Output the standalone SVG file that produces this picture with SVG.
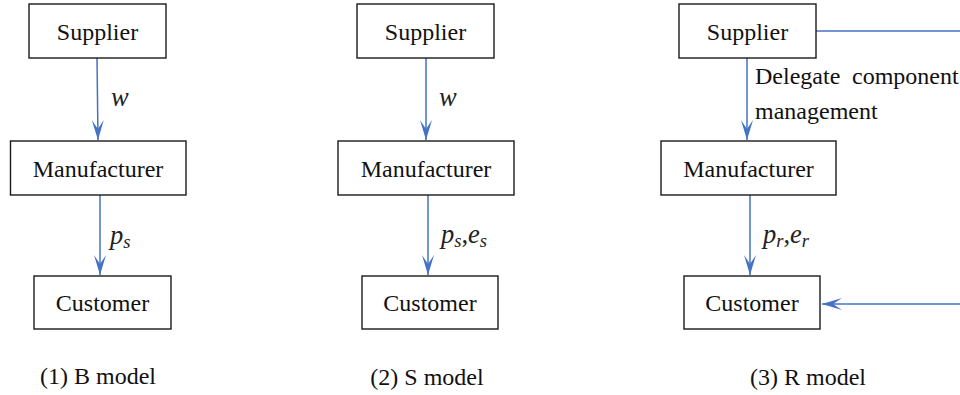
<svg xmlns="http://www.w3.org/2000/svg" width="960" height="395" viewBox="0 0 960 395" font-family="Liberation Serif, serif">
<defs>
<style>
text{font-family:'Liberation Serif',serif}
.box{fill:#fff;stroke:#1a1a1a;stroke-width:1.4}
.lbl{font-size:24px;fill:#111;text-anchor:middle}
.txt{font-size:24px;fill:#111}
.math{font-style:italic;font-size:26.5px;fill:#222}
.sub{font-size:18.5px}
.conn{stroke:#4472C4;stroke-width:1.5;fill:none}
</style>
<marker id="ah" markerUnits="userSpaceOnUse" markerWidth="22" markerHeight="14" viewBox="-21 -7 22 14" refX="0" refY="0" orient="auto">
<path d="M0,0 L-20,-6 L-11,0 L-20,6 Z" fill="#4472C4"/>
</marker>
</defs>
<rect width="960" height="395" fill="#fff"/>

<g id="connectors">
<line class="conn" x1="97" y1="58" x2="98" y2="140" marker-end="url(#ah)"/>
<line class="conn" x1="100" y1="195" x2="100" y2="275" marker-end="url(#ah)"/>
<line class="conn" x1="426" y1="58" x2="426" y2="140" marker-end="url(#ah)"/>
<line class="conn" x1="428" y1="195" x2="428" y2="275" marker-end="url(#ah)"/>
<line class="conn" x1="747" y1="58" x2="747" y2="140" marker-end="url(#ah)"/>
<line class="conn" x1="750" y1="195" x2="750" y2="275" marker-end="url(#ah)"/>
<line class="conn" x1="816" y1="31" x2="960" y2="31"/>
<line class="conn" x1="960" y1="304" x2="822" y2="304" marker-end="url(#ah)"/>
</g>

<g id="b-supplier"><rect class="box" x="29" y="4" width="137" height="54"/><text class="lbl" x="97.5" y="39.5">Supplier</text></g>
<g id="b-manufacturer"><rect class="box" x="10.5" y="141" width="175.5" height="54"/><text class="lbl" x="98" y="176.5">Manufacturer</text></g>
<g id="b-customer"><rect class="box" x="34" y="276" width="137" height="53"/><text class="lbl" x="102.5" y="311">Customer</text></g>

<g id="s-supplier"><rect class="box" x="357" y="4" width="137" height="54"/><text class="lbl" x="425.5" y="39.5">Supplier</text></g>
<g id="s-manufacturer"><rect class="box" x="338" y="141" width="176" height="54"/><text class="lbl" x="426" y="176.5">Manufacturer</text></g>
<g id="s-customer"><rect class="box" x="362" y="276" width="136" height="53"/><text class="lbl" x="430" y="311">Customer</text></g>

<g id="r-supplier"><rect class="box" x="679" y="4" width="137" height="54"/><text class="lbl" x="747.5" y="39.5">Supplier</text></g>
<g id="r-manufacturer"><rect class="box" x="661" y="141" width="175" height="54"/><text class="lbl" x="748.5" y="176.5">Manufacturer</text></g>
<g id="r-customer"><rect class="box" x="684" y="276" width="136" height="53"/><text class="lbl" x="752" y="311">Customer</text></g>

<g id="labels">
<text class="math" x="111" y="106">w</text>
<text class="math" x="439" y="106">w</text>
<text class="math" x="110" y="244">p<tspan class="sub" dy="4">s</tspan></text>
<text class="math" x="441" y="243">p<tspan class="sub" dy="4">s</tspan><tspan dy="-4" font-style="normal">,</tspan>e<tspan class="sub" dy="4">s</tspan></text>
<text class="math" x="763" y="243">p<tspan class="sub" dy="4">r</tspan><tspan dy="-4" font-style="normal">,</tspan>e<tspan class="sub" dy="4">r</tspan></text>
<text class="txt" x="755" y="84">Delegate</text>
<text class="txt" x="852" y="84">component</text>
<text class="txt" x="755" y="119">management</text>
</g>

<g id="captions">
<text class="lbl" x="98" y="384">(1) B model</text>
<text class="lbl" x="427" y="385">(2) S model</text>
<text class="lbl" x="808" y="385">(3) R model</text>
</g>
</svg>
